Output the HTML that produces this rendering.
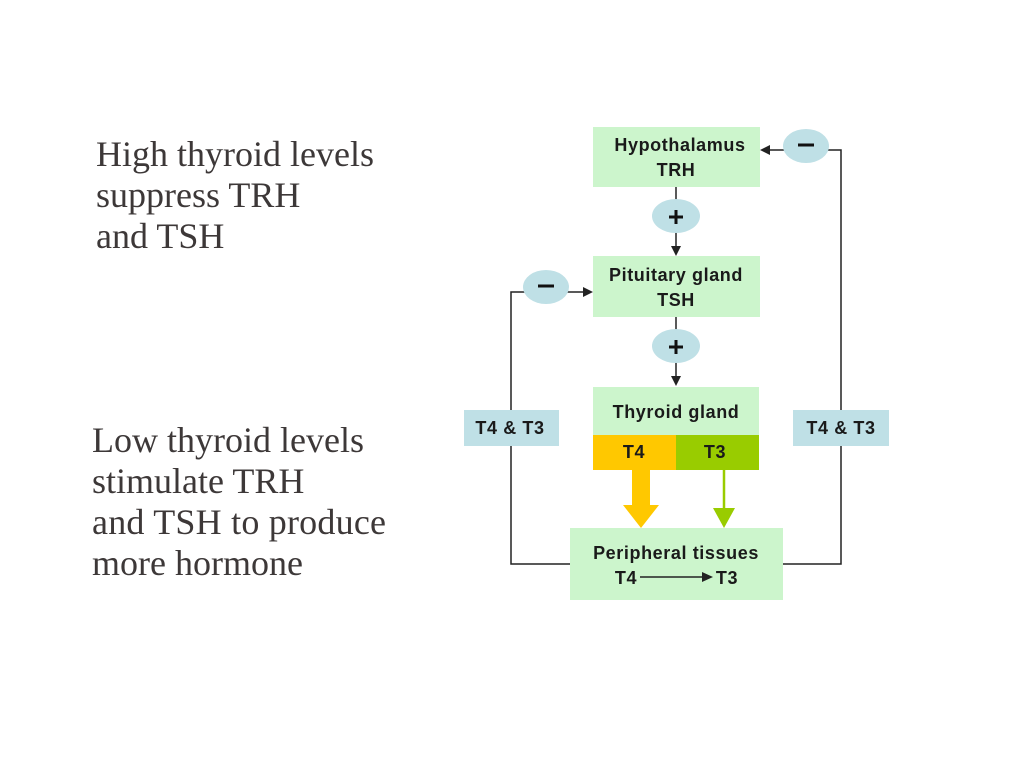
<!DOCTYPE html>
<html><head><meta charset="utf-8"><style>
html,body{margin:0;padding:0;background:#fff;}
svg{display:block}
.s{font-family:"Liberation Serif",serif;font-size:36px;fill:#3d3838}
.b{font-family:"Liberation Sans",sans-serif;font-weight:bold;font-size:18px;letter-spacing:0.6px;fill:#1a1a1a;text-anchor:middle}
</style></head><body>
<svg width="1024" height="768" viewBox="0 0 1024 768">
<text class="s" x="96" y="166" textLength="278">High thyroid levels</text>
<text class="s" x="96" y="207">suppress TRH</text>
<text class="s" x="96" y="248">and TSH</text>
<text class="s" x="92" y="452">Low thyroid levels</text>
<text class="s" x="92" y="493">stimulate TRH</text>
<text class="s" x="92" y="534" textLength="294">and TSH to produce</text>
<text class="s" x="92" y="575">more hormone</text>

<g stroke="#222" stroke-width="1.5" fill="none">
<polyline points="570,564 511,564 511,292 525,292"/>
<polyline points="783,564 841,564 841,150 826,150"/>
<line x1="676" y1="187" x2="676" y2="250"/>
<line x1="676" y1="317" x2="676" y2="380"/>
<line x1="567" y1="292" x2="588" y2="292"/>
<line x1="785" y1="150" x2="765" y2="150"/>
</g>
<g fill="#222">
<polygon points="676,256 671,246 681,246"/>
<polygon points="676,386 671,376 681,376"/>
<polygon points="593,292 583,287 583,297"/>
<polygon points="760,150 770,145 770,155"/>
</g>

<rect x="593" y="127" width="167" height="60" fill="#ccf5cc"/>
<rect x="593" y="256" width="167" height="61" fill="#ccf5cc"/>
<rect x="593" y="387" width="166" height="48" fill="#ccf5cc"/>
<rect x="593" y="435" width="83" height="35" fill="#ffc800"/>
<rect x="676" y="435" width="83" height="35" fill="#99cc00"/>
<rect x="570" y="528" width="213" height="72" fill="#ccf5cc"/>
<line x1="640" y1="577" x2="705" y2="577" stroke="#222" stroke-width="1.5"/>
<polygon points="713,577 702,572 702,582" fill="#222"/>

<rect x="632" y="470" width="18" height="36" fill="#ffc800"/>
<polygon points="623,505 659,505 641,528" fill="#ffc800"/>
<line x1="724" y1="470" x2="724" y2="510" stroke="#99cc00" stroke-width="2.5"/>
<polygon points="713,508 735,508 724,528" fill="#99cc00"/>

<rect x="464" y="410" width="95" height="36" fill="#bfe0e6"/>
<rect x="793" y="410" width="96" height="36" fill="#bfe0e6"/>

<ellipse cx="676" cy="216" rx="24" ry="17" fill="#bfe0e6"/>
<ellipse cx="676" cy="346" rx="24" ry="17" fill="#bfe0e6"/>
<ellipse cx="546" cy="287" rx="23" ry="17" fill="#bfe0e6"/>
<ellipse cx="806" cy="146" rx="23" ry="17" fill="#bfe0e6"/>
<g stroke="#111" stroke-width="3">
<line x1="669" y1="217" x2="683" y2="217"/><line x1="676" y1="210" x2="676" y2="224"/>
<line x1="669" y1="347" x2="683" y2="347"/><line x1="676" y1="340" x2="676" y2="354"/>
<line x1="538" y1="286" x2="554" y2="286"/>
<line x1="798" y1="145" x2="814" y2="145"/>
</g>

<text class="b" x="680" y="151">Hypothalamus</text>
<text class="b" x="676" y="176">TRH</text>
<text class="b" x="676" y="281">Pituitary gland</text>
<text class="b" x="676" y="306">TSH</text>
<text class="b" x="676" y="418">Thyroid gland</text>
<text class="b" x="634" y="458">T4</text>
<text class="b" x="715" y="458">T3</text>
<text class="b" x="676" y="559">Peripheral tissues</text>
<text class="b" x="626" y="584">T4</text>
<text class="b" x="727" y="584">T3</text>
<text class="b" x="510" y="434">T4 &amp; T3</text>
<text class="b" x="841" y="434">T4 &amp; T3</text>
</svg>
</body></html>
